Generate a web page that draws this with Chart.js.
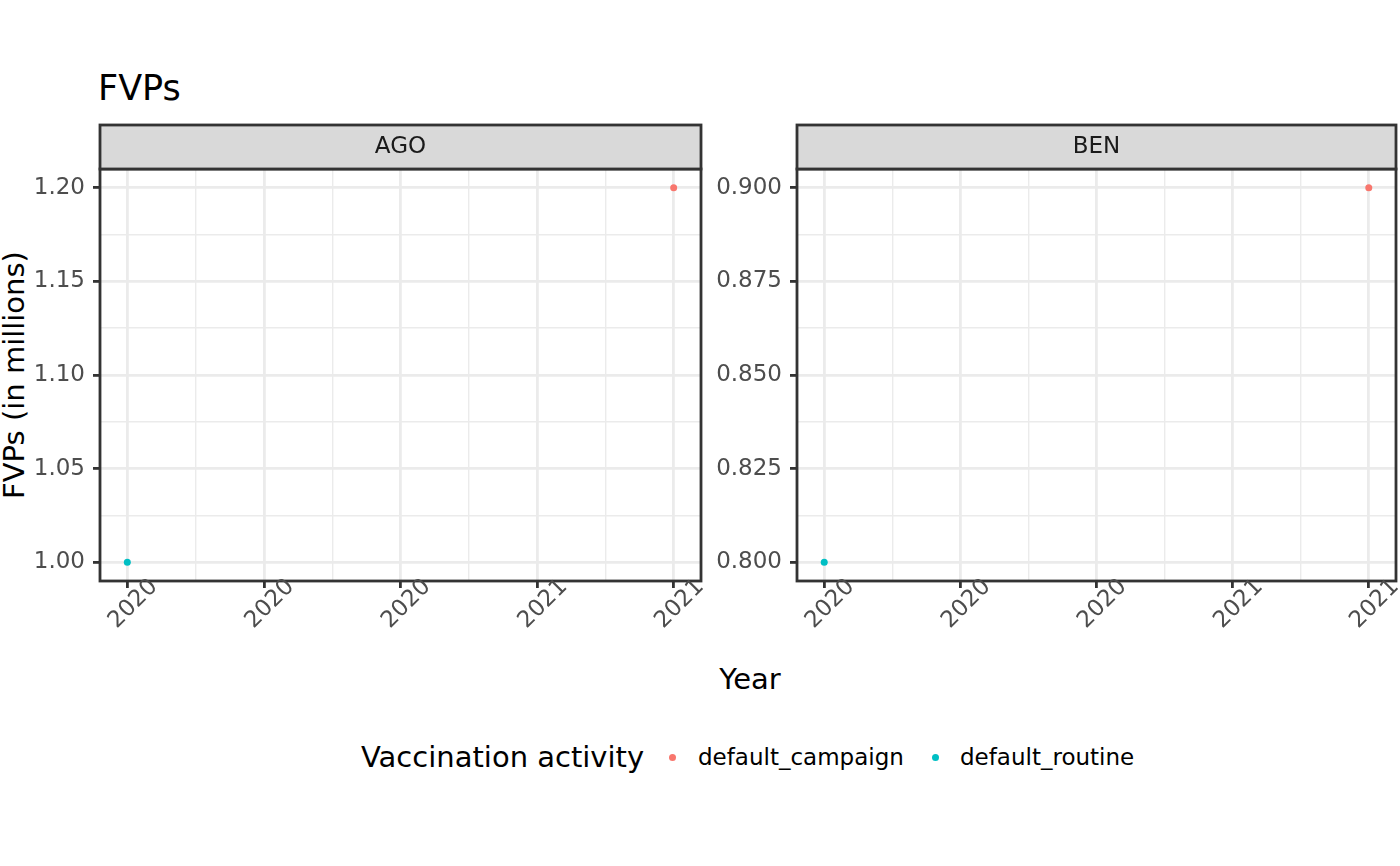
<!DOCTYPE html>
<html>
    <head>
        <title>FVPs</title>
        <meta charset="UTF-8">
        <script src="https://cdn.jsdelivr.net/npm/chart.js/dist/chart.umd.min.js"></script>
        <style>
          body { margin: 0; background: #fff; font-family: 'DejaVu Sans', sans-serif; }
          #wrap { position: relative; width: 1400px; height: 866px; overflow: hidden; }
          canvas { position: absolute; top: 100px; }
          .txt { position: absolute; white-space: nowrap; line-height: 1; }
          .dot { position: absolute; width: 7px; height: 7px; border-radius: 50%; }
        </style>
    </head>
    <body>
        <div id="wrap">
          <div class="txt" id="title" style="left:98px; top:71px; font-size:35px; color:#000;"></div>
          <div class="txt" id="ylab" style="left:14px; top:375px; font-size:29px; transform:translate(-50%,-50%) rotate(-90deg);"></div>
          <div class="txt" id="xlab" style="left:750px; top:679px; font-size:29px; transform:translate(-50%,-50%);"></div>
          <div class="txt" id="legTitle" style="left:361px; top:757px; font-size:29px; transform:translateY(-50%);"></div>
          <div class="dot" style="left:669px; top:754px; background:#F8766D;"></div>
          <div class="txt" id="leg1" style="left:698px; top:757px; font-size:23px; transform:translateY(-50%);"></div>
          <div class="dot" style="left:932px; top:754px; background:#00BFC4;"></div>
          <div class="txt" id="leg2" style="left:960px; top:757px; font-size:23px; transform:translateY(-50%);"></div>

          <!-- one canvas per facet panel -->
          <canvas id="chartAGO" width="720" height="560" style="left:0px;"></canvas>
          <canvas id="chartBEN" width="703" height="560" style="left:697px;"></canvas>
        </div>

        <script>
          //****************************** data ******************************//
          const countries = ['AGO', 'BEN'];
          const activities = ['default_campaign', 'default_routine'];
          const activityColors = ['#F8766D', '#00BFC4'];

          const campaignYears = [2021];
          const routineYears = [2020];
          const agoCampaign = [1.20];   //FVPs in millions
          const agoRoutine = [1.00];
          const benCampaign = [0.90];
          const benRoutine = [0.80];

          //axis breaks and the labels ggplot printed for them
          const xBreaks = [2020, 2020.25, 2020.5, 2020.75, 2021];
          const xMinor = [2020.125, 2020.375, 2020.625, 2020.875];
          const xLabels = ['2020', '2020', '2020', '2021', '2021'];

          const yBreaksAGO = [1.00, 1.05, 1.10, 1.15, 1.20];
          const yMinorAGO = [1.025, 1.075, 1.125, 1.175];
          const yLabelsAGO = ['1.00', '1.05', '1.10', '1.15', '1.20'];

          const yBreaksBEN = [0.800, 0.825, 0.850, 0.875, 0.900];
          const yMinorBEN = [0.8125, 0.8375, 0.8625, 0.8875];
          const yLabelsBEN = ['0.800', '0.825', '0.850', '0.875', '0.900'];

          const titleText = 'FVPs';
          const xTitle = 'Year';
          const yTitle = 'FVPs (in millions)';
          const legendTitle = 'Vaccination activity';

          document.getElementById('title').textContent = titleText;
          document.getElementById('xlab').textContent = xTitle;
          document.getElementById('ylab').textContent = yTitle;
          document.getElementById('legTitle').textContent = legendTitle;
          document.getElementById('leg1').textContent = activities[0];
          document.getElementById('leg2').textContent = activities[1];

          const FONT = 'DejaVu Sans';
          const MAJOR_W = 2.8;
          const MINOR_W = 1.4;

          function toPoints(xs, ys){
            return xs.map((x, i) => ({x: x, y: ys[i]}));
          }

          // strip, panel border and rotated x labels, ggplot style
          const facetPlugin = {
            id: 'facet',
            afterDraw(chart, args, opts){
              const ctx = chart.ctx;
              const a = chart.chartArea;
              ctx.save();
              // panel border
              ctx.strokeStyle = '#333333';
              ctx.lineWidth = MAJOR_W;
              ctx.strokeRect(a.left, a.top, a.right - a.left, a.bottom - a.top);
              // strip
              ctx.fillStyle = '#D9D9D9';
              ctx.fillRect(a.left, a.top - 44, a.right - a.left, 44);
              ctx.strokeRect(a.left, a.top - 44, a.right - a.left, 44);
              ctx.fillStyle = '#1A1A1A';
              ctx.font = '23px "' + FONT + '"';
              ctx.textAlign = 'center';
              ctx.textBaseline = 'middle';
              ctx.fillText(opts.label, (a.left + a.right) / 2, a.top - 22);
              // x tick labels, rotated 45 degrees around their centre
              const xs = chart.scales.x;
              ctx.fillStyle = '#4D4D4D';
              xBreaks.forEach((v, i) => {
                const px = xs.getPixelForValue(v);
                ctx.save();
                ctx.translate(px + 6, a.bottom + 23);
                ctx.rotate(-Math.PI / 4);
                ctx.fillText(xLabels[i], 0, 0);
                ctx.restore();
              });
              ctx.restore();
            }
          };

          function makeChart(id, label, campaign, routine, yMin, yMax, yBreaks, yMinor, yLabels){
            const yTicks = yBreaks.concat(yMinor).sort((p, q) => p - q);
            const xTicks = xBreaks.concat(xMinor).sort((p, q) => p - q);
            return new Chart(document.getElementById(id), {
              type: 'scatter',
              data: {
                datasets: [
                  {
                    label: activities[0],
                    data: toPoints(campaignYears, campaign),
                    backgroundColor: activityColors[0],
                    borderWidth: 0,
                    pointRadius: 3.5
                  },
                  {
                    label: activities[1],
                    data: toPoints(routineYears, routine),
                    backgroundColor: activityColors[1],
                    borderWidth: 0,
                    pointRadius: 3.5
                  }
                ]
              },
              options: {
                responsive: false,
                animation: false,
                events: [],
                clip: false,
                layout: { padding: { top: 69, right: chartRight(id), left: 0, bottom: 0 } },
                plugins: {
                  legend: { display: false },
                  tooltip: { enabled: false },
                  facet: { label: label }
                },
                scales: {
                  x: {
                    type: 'linear',
                    min: 2019.95,
                    max: 2021.05,
                    border: { display: false },
                    afterBuildTicks: s => { s.ticks = xTicks.map(v => ({value: v})); },
                    afterFit: s => {
                      s.height = 79;
                      s.paddingLeft = 0; s.paddingRight = 0; s.paddingTop = 0; s.paddingBottom = 0;
                    },
                    ticks: { display: false, autoSkip: false },
                    grid: {
                      color: '#EBEBEB',
                      lineWidth: c => xBreaks.includes(c.tick.value) ? MAJOR_W : MINOR_W,
                      tickLength: 7,
                      tickColor: c => xBreaks.includes(c.tick.value) ? '#333333' : 'rgba(0,0,0,0)',
                      tickWidth: c => xBreaks.includes(c.tick.value) ? MAJOR_W : 0
                    }
                  },
                  y: {
                    type: 'linear',
                    min: yMin,
                    max: yMax,
                    border: { display: false },
                    afterBuildTicks: s => { s.ticks = yTicks.map(v => ({value: v})); },
                    afterFit: s => {
                      s.width = 100;
                      s.paddingLeft = 0; s.paddingRight = 0; s.paddingTop = 0; s.paddingBottom = 0;
                    },
                    ticks: {
                      autoSkip: false,
                      padding: 8,
                      color: '#4D4D4D',
                      font: { family: FONT, size: 23 },
                      callback: v => {
                        const j = yBreaks.indexOf(v);
                        return j >= 0 ? yLabels[j] : '';
                      }
                    },
                    grid: {
                      color: '#EBEBEB',
                      lineWidth: c => yBreaks.includes(c.tick.value) ? MAJOR_W : MINOR_W,
                      tickLength: 7,
                      tickColor: c => yBreaks.includes(c.tick.value) ? '#333333' : 'rgba(0,0,0,0)',
                      tickWidth: c => yBreaks.includes(c.tick.value) ? MAJOR_W : 0
                    }
                  }
                }
              },
              plugins: [facetPlugin]
            });
          }

          //right padding so the panels end where ggplot put them
          function chartRight(id){
            return id === 'chartAGO' ? 19 : 1;
          }

          makeChart('chartAGO', countries[0], agoCampaign, agoRoutine, 0.99, 1.21, yBreaksAGO, yMinorAGO, yLabelsAGO);
          makeChart('chartBEN', countries[1], benCampaign, benRoutine, 0.795, 0.905, yBreaksBEN, yMinorBEN, yLabelsBEN);
        </script>
    </body>
</html>
